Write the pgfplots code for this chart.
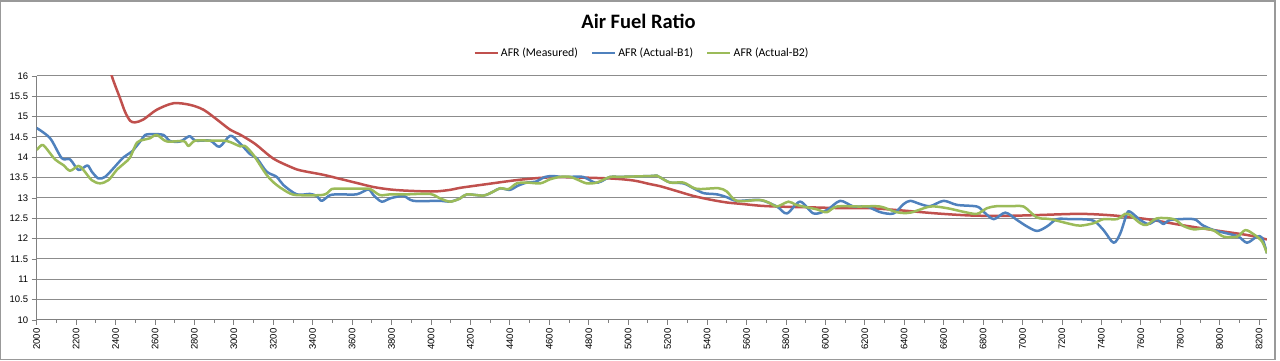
\documentclass[border=0pt]{standalone}
\usepackage{pgfplots}
\pgfplotsset{compat=1.18}
\usepackage{fontspec}
\setmainfont{Carlito}
\newfontfamily\tickfont{Liberation Sans}
\definecolor{cred}{HTML}{C0504D}
\definecolor{cblue}{HTML}{4F81BD}
\definecolor{cgreen}{HTML}{9BBB59}
\definecolor{gridgray}{HTML}{8C8C8C}
\begin{document}
\begin{tikzpicture}
\useasboundingbox (0pt,0pt) rectangle (1280pt,361pt);
\draw[gray!80, line width=1.2pt] (0.8pt,1.5pt) rectangle (1275pt,360pt);
\node[font=\bfseries\fontsize{20.5}{23}\selectfont] at (638.5pt,340pt) {Air Fuel Ratio};
\begin{axis}[
  at={(36.7pt,41pt)}, anchor=south west,
  scale only axis, width=1230.3pt, height=244pt,
  xmin=2000, xmax=8240, ymin=10, ymax=16,
  xtick={2000,2200,...,8200}, minor x tick num=1,
  ytick={10,10.5,...,16},
  ymajorgrids, major grid style={gridgray, line width=1pt},
  axis x line=bottom, axis y line=left,
  axis line style={-, draw=gray, line width=1pt},
  tick align=outside,
  major tick length=5pt, minor tick length=3pt,
  tick style={gray, line width=0.8pt},
  xticklabel style={rotate=90, anchor=east, font=\tickfont\fontsize{9.5}{11}\selectfont},
  yticklabel style={font=\tickfont\fontsize{9.5}{11}\selectfont},
  /pgf/number format/assume math mode=true,
  /pgf/number format/1000 sep={},
  legend columns=3,
  legend style={at={(0.492,1.094)}, anchor=center, draw=none, fill=none,
    font=\fontsize{11.8}{14}\selectfont,
    /tikz/every even column/.append style={column sep=11pt}},
  legend image code/.code={\draw[#1, line width=2.5pt] (0pt,0pt) -- (23pt,0pt);},
  every axis plot/.append style={line width=2.5pt, smooth, line join=round},
]
\addplot[cred] coordinates {
(2300,17.3) (2350,16.6) (2381,16.0) (2423,15.45) (2448,15.12) (2474,14.9) (2499,14.86)
(2541,14.93) (2609,15.17) (2694,15.33) (2778,15.29) (2846,15.17) (2914,14.93) (2981,14.68)
(3031,14.56) (3083,14.41) (3116,14.3) (3200,13.97) (3285,13.77) (3336,13.68) (3454,13.57)
(3539,13.47) (3623,13.37) (3708,13.27) (3792,13.21) (3877,13.18) (4012,13.16) (4097,13.2)
(4148,13.25) (4266,13.33) (4435,13.44) (4570,13.5) (4689,13.51) (4909,13.48) (5027,13.43)
(5112,13.34) (5162,13.29) (5247,13.17) (5331,13.05) (5416,12.96) (5500,12.89) (5585,12.85)
(5669,12.81) (5754,12.79) (5923,12.77) (6092,12.75) (6228,12.75) (6397,12.69) (6566,12.62)
(6735,12.57) (6904,12.56) (7074,12.58) (7293,12.61) (7462,12.57) (7631,12.48) (7800,12.34)
(7970,12.21) (8139,12.09) (8240,11.98)
};
\addlegendentry{AFR (Measured)}
\addplot[cblue] coordinates {
(2000,14.72) (2068,14.47) (2127,13.98) (2169,13.95) (2212,13.69) (2257,13.8) (2279,13.65)
(2313,13.48) (2347,13.52) (2389,13.73) (2440,14.0) (2482,14.14) (2525,14.39) (2550,14.55)
(2592,14.57) (2643,14.55) (2677,14.4) (2728,14.39) (2775,14.52) (2804,14.41) (2880,14.41)
(2927,14.26) (2981,14.53) (3024,14.38) (3082,14.08) (3116,13.98) (3166,13.65) (3217,13.52)
(3251,13.32) (3319,13.09) (3386,13.1) (3420,13.05) (3446,12.93) (3488,13.07) (3539,13.09)
(3623,13.09) (3682,13.21) (3708,13.07) (3750,12.91) (3792,12.99) (3860,13.05) (3911,12.93)
(4046,12.93) (4097,12.91) (4148,12.99) (4182,13.09) (4266,13.06) (4317,13.16) (4351,13.24)
(4400,13.2) (4440,13.3) (4486,13.38) (4530,13.4) (4580,13.52) (4621,13.54) (4655,13.52)
(4706,13.52) (4770,13.52) (4830,13.38) (4860,13.4) (4909,13.52) (4959,13.52) (5112,13.54)
(5145,13.55) (5165,13.5) (5213,13.38) (5280,13.36) (5331,13.24) (5382,13.12) (5450,13.09)
(5500,13.02) (5551,12.93) (5669,12.95) (5754,12.79) (5805,12.62) (5872,12.91) (5940,12.62)
(6007,12.7) (6075,12.93) (6143,12.79) (6211,12.79) (6279,12.65) (6346,12.62) (6397,12.85)
(6431,12.93) (6482,12.85) (6532,12.8) (6600,12.93) (6668,12.83) (6769,12.79) (6803,12.66)
(6854,12.48) (6913,12.64) (6972,12.46) (7023,12.3) (7074,12.19) (7124,12.3) (7175,12.48)
(7243,12.48) (7293,12.48) (7361,12.44) (7411,12.21) (7462,11.9) (7496,12.13) (7530,12.62)
(7547,12.66) (7597,12.46) (7640,12.36) (7682,12.46) (7716,12.36) (7750,12.46) (7868,12.48)
(7910,12.34) (7970,12.21) (8037,12.13) (8096,12.05) (8139,11.9) (8189,12.05) (8215,12.02)
(8240,11.64)
};
\addlegendentry{AFR (Actual-B1)}
\addplot[cgreen] coordinates {
(2000,14.18) (2025,14.3) (2042,14.26) (2093,13.95) (2135,13.81) (2169,13.67) (2212,13.79)
(2237,13.69) (2279,13.44) (2321,13.36) (2364,13.44) (2406,13.69) (2448,13.87) (2474,14.0)
(2508,14.36) (2541,14.43) (2575,14.47) (2609,14.55) (2660,14.39) (2745,14.4) (2770,14.28)
(2804,14.41) (2880,14.41) (2965,14.4) (3032,14.27) (3056,14.28) (3099,14.06) (3166,13.57)
(3217,13.32) (3285,13.11) (3327,13.07) (3437,13.07) (3471,13.11) (3496,13.22) (3539,13.23)
(3674,13.23) (3699,13.2) (3742,13.07) (3792,13.09) (3877,13.09) (3995,13.1) (4046,12.99)
(4097,12.91) (4148,12.99) (4182,13.09) (4266,13.06) (4317,13.16) (4351,13.24) (4393,13.22)
(4435,13.36) (4486,13.38) (4554,13.36) (4604,13.46) (4655,13.52) (4706,13.52) (4748,13.44)
(4790,13.36) (4841,13.38) (4909,13.52) (4959,13.52) (5112,13.54) (5145,13.55) (5165,13.5)
(5213,13.38) (5280,13.38) (5331,13.25) (5365,13.22) (5458,13.24) (5500,13.16) (5551,12.93)
(5669,12.95) (5720,12.87) (5754,12.79) (5813,12.91) (5847,12.84) (5889,12.79) (5957,12.72)
(6007,12.65) (6058,12.79) (6177,12.79) (6278,12.79) (6363,12.65) (6431,12.64) (6532,12.79)
(6617,12.75) (6701,12.66) (6769,12.61) (6820,12.75) (6871,12.8) (6955,12.8) (7006,12.79)
(7074,12.52) (7141,12.48) (7243,12.36) (7293,12.32) (7361,12.38) (7411,12.48) (7479,12.48)
(7521,12.61) (7547,12.58) (7597,12.38) (7631,12.34) (7682,12.5) (7767,12.48) (7817,12.31)
(7868,12.23) (7919,12.25) (7970,12.2) (8020,12.05) (8088,12.05) (8130,12.21) (8172,12.11)
(8215,11.93) (8240,11.64)
};
\addlegendentry{AFR (Actual-B2)}
\end{axis}
\end{tikzpicture}
\end{document}
